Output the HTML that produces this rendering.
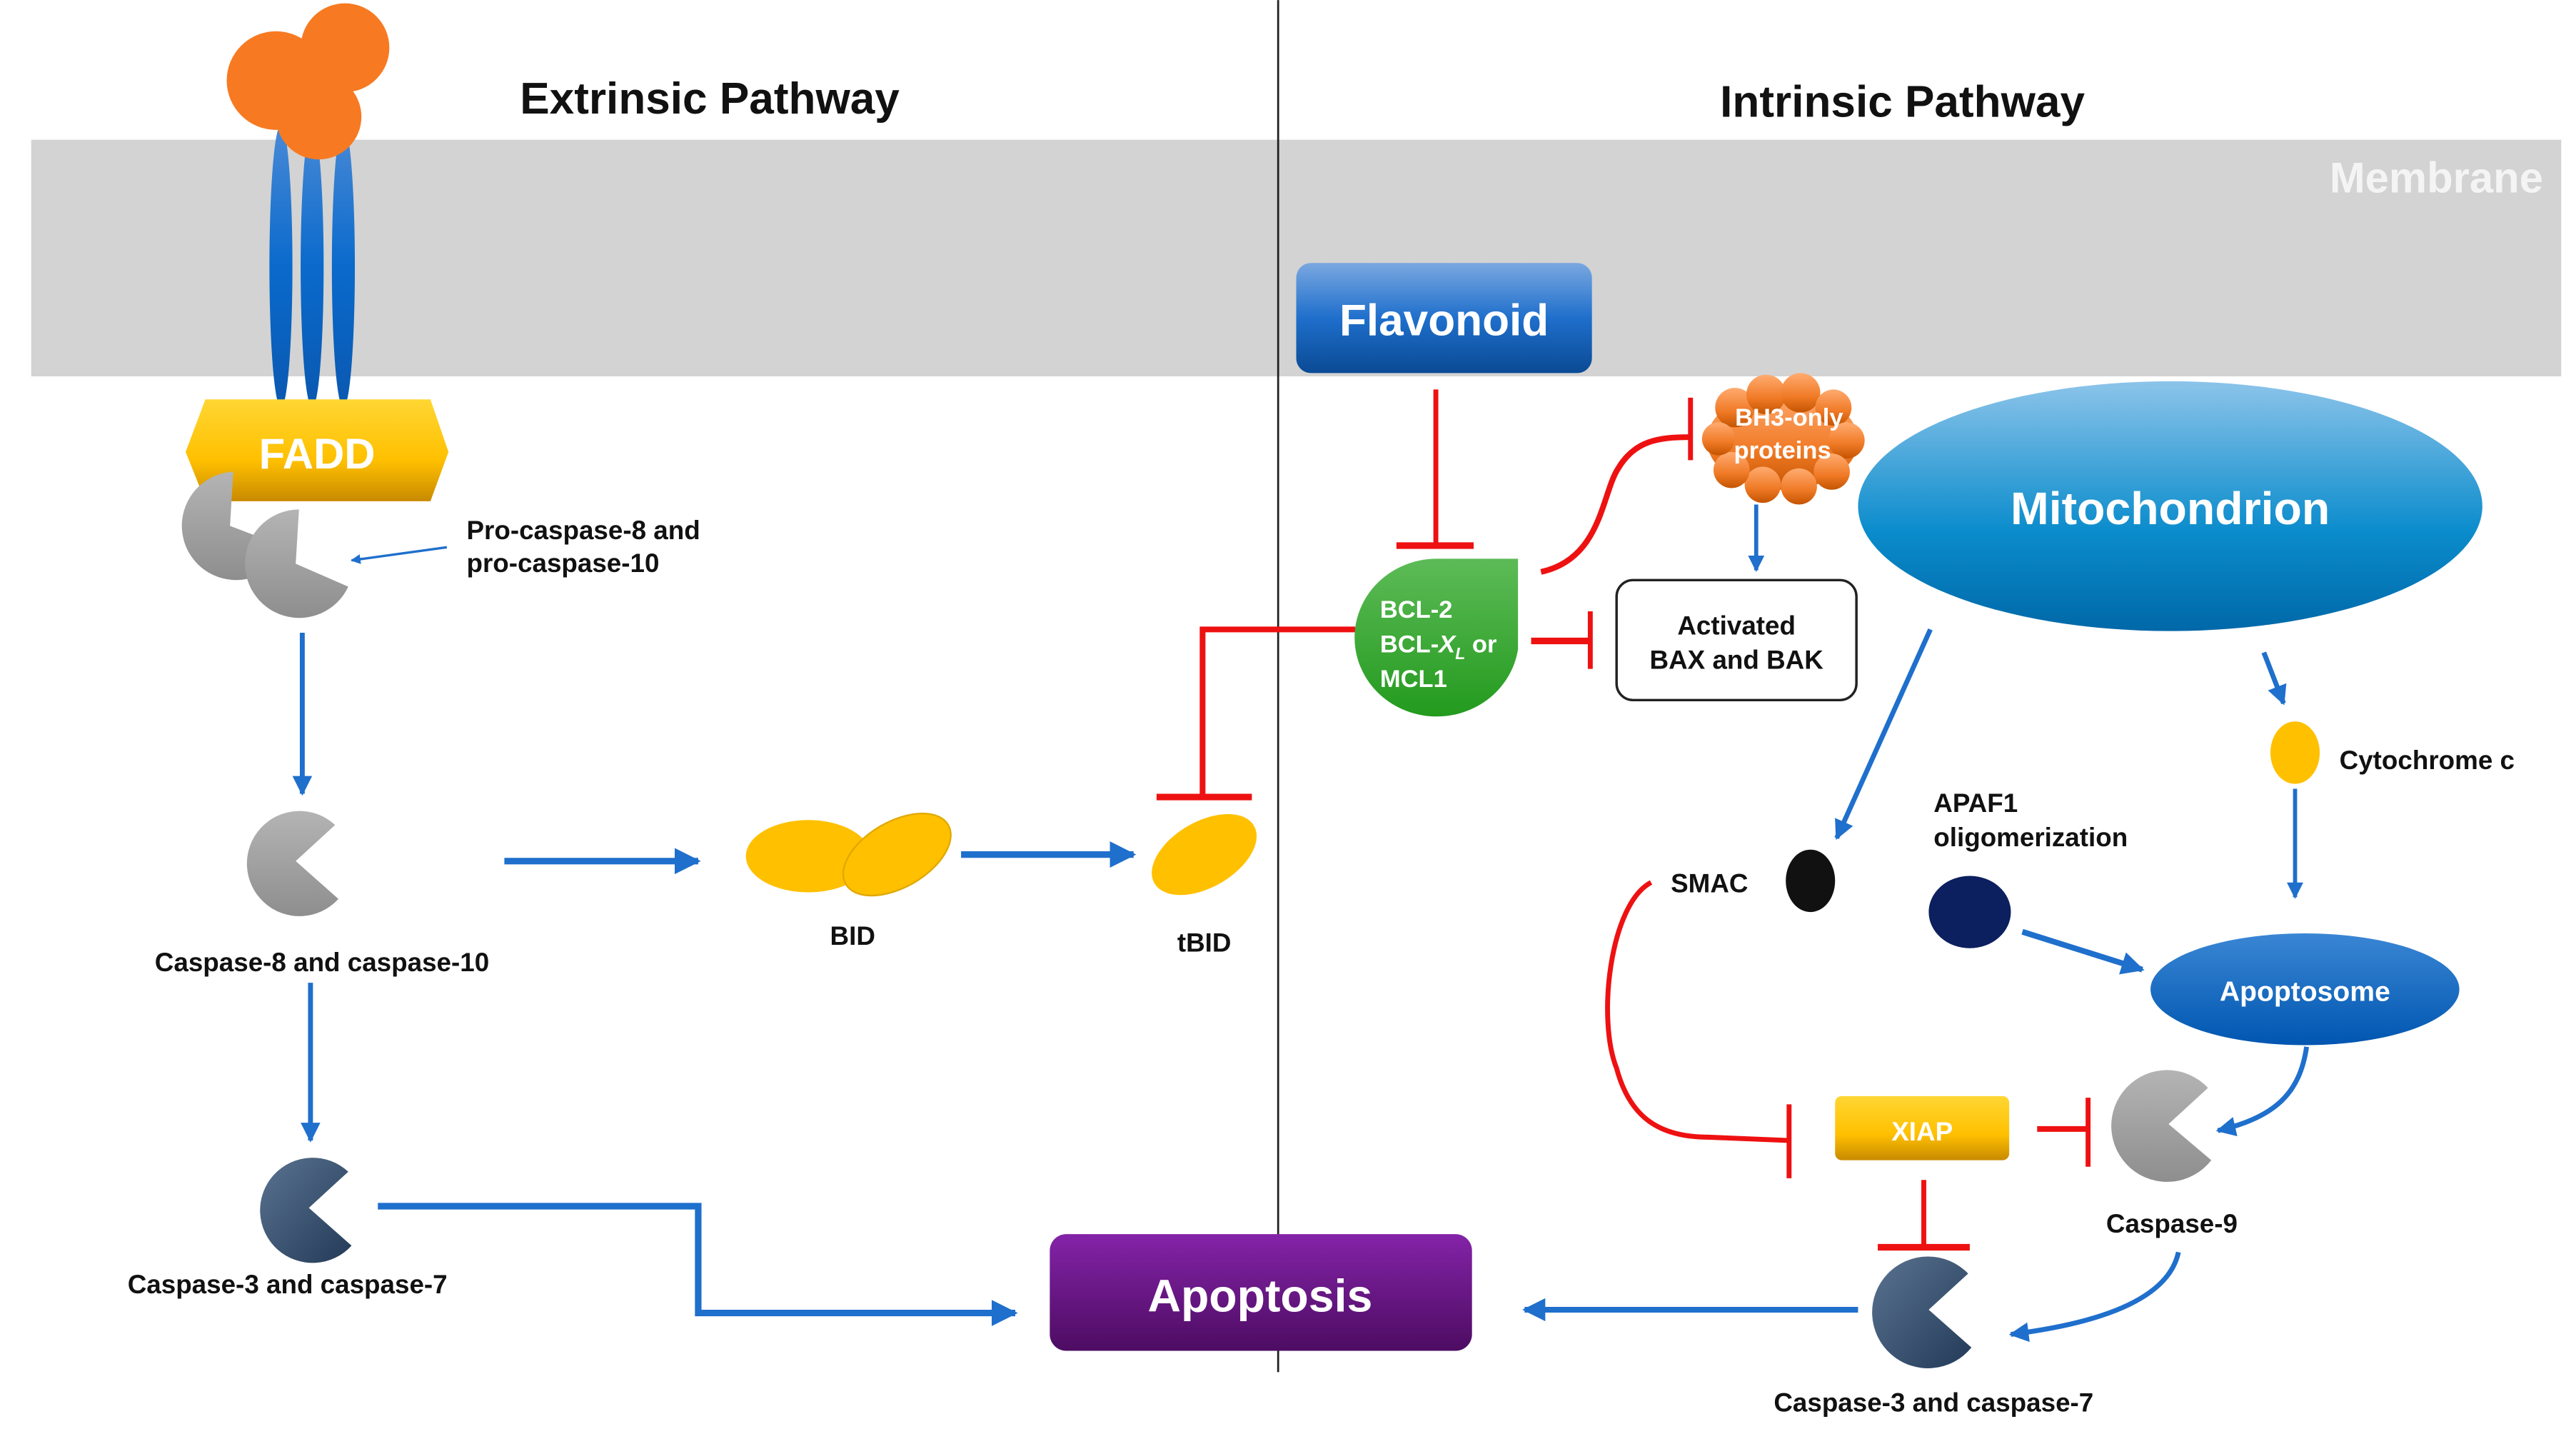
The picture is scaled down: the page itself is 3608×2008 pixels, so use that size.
<!DOCTYPE html>
<html><head><meta charset="utf-8"><style>
html,body{margin:0;padding:0;background:#fff;}
svg{display:block;}
text{font-family:"Liberation Sans",sans-serif;font-weight:bold;}
</style></head><body>
<svg width="3608" height="2008" viewBox="0 0 1568 872.6" xmlns="http://www.w3.org/2000/svg">
<defs>
<linearGradient id="gBlue" x1="0" y1="0" x2="0" y2="1"><stop offset="0" stop-color="#7aa8e0"/><stop offset=".5" stop-color="#1f6fcc"/><stop offset="1" stop-color="#0a4a94"/></linearGradient>
<linearGradient id="gMito" x1="0" y1="0" x2="0" y2="1"><stop offset="0" stop-color="#8cc4ea"/><stop offset=".6" stop-color="#0b8ccc"/><stop offset="1" stop-color="#0068a8"/></linearGradient>
<linearGradient id="gApo" x1="0" y1="0" x2="0" y2="1"><stop offset="0" stop-color="#3a86d4"/><stop offset="1" stop-color="#0056b0"/></linearGradient>
<linearGradient id="gPur" x1="0" y1="0" x2="0" y2="1"><stop offset="0" stop-color="#8423a8"/><stop offset="1" stop-color="#4d0c62"/></linearGradient>
<linearGradient id="gYel" x1="0" y1="0" x2="0" y2="1"><stop offset="0" stop-color="#ffd633"/><stop offset=".6" stop-color="#ffc000"/><stop offset="1" stop-color="#c88a00"/></linearGradient>
<linearGradient id="gOr" x1="0" y1="0" x2="0" y2="1"><stop offset="0" stop-color="#ffab70"/><stop offset=".6" stop-color="#f07a26"/><stop offset="1" stop-color="#c45400"/></linearGradient>
<linearGradient id="gGr" x1="0" y1="0" x2="0" y2="1"><stop offset="0" stop-color="#5dbb57"/><stop offset="1" stop-color="#239a1e"/></linearGradient>
<linearGradient id="gGray" x1="0" y1="0" x2="0" y2="1"><stop offset="0" stop-color="#b4b4b4"/><stop offset="1" stop-color="#8e8e8e"/></linearGradient>
<linearGradient id="gDark" x1="0" y1="0" x2="1" y2="1"><stop offset="0" stop-color="#5a7390"/><stop offset="1" stop-color="#233b58"/></linearGradient>
<linearGradient id="gRec" x1="0" y1="0" x2="0" y2="1"><stop offset="0" stop-color="#4a8ad6"/><stop offset=".5" stop-color="#0a6acc"/><stop offset="1" stop-color="#0a58b0"/></linearGradient>
<marker id="ab" viewBox="0 0 10 10" refX="9" refY="5" markerWidth="4" markerHeight="4" orient="auto"><path d="M0,0 L10,5 L0,10 Z" fill="#1f6fcc"/></marker>
</defs>

<rect x="19" y="85" width="1540" height="144" fill="#d3d3d3"/>
<text x="1548" y="117" text-anchor="end" font-size="26" fill="#f4f4f4">Membrane</text>
<line x1="778" y1="0" x2="778" y2="835" stroke="#222" stroke-width="1.2"/>

<text x="432" y="69" text-anchor="middle" font-size="27" fill="#111">Extrinsic Pathway</text>
<text x="1158" y="71" text-anchor="middle" font-size="27" fill="#111">Intrinsic Pathway</text>

<ellipse cx="171" cy="162" rx="7" ry="86" fill="url(#gRec)"/>
<ellipse cx="190" cy="162" rx="7" ry="86" fill="url(#gRec)"/>
<ellipse cx="209" cy="162" rx="7" ry="86" fill="url(#gRec)"/>
<circle cx="168" cy="49" r="30" fill="#f77a22"/>
<circle cx="210" cy="29" r="27" fill="#f77a22"/>
<circle cx="194" cy="71" r="26" fill="#f77a22"/>

<path d="M125,243 L262,243 L273,275 L262,305 L125,305 L113,275 Z" fill="url(#gYel)"/>
<text x="193" y="285" text-anchor="middle" font-size="26" fill="#fff">FADD</text>
<path d="M140,320 L142,287 A33,33 0 1 0 174,333 Z" fill="url(#gGray)"/>
<path d="M180,343 L182,310 A33,33 0 1 0 212,357 Z" fill="url(#gGray)"/>
<line x1="272" y1="333" x2="214" y2="341" stroke="#1f6fcc" stroke-width="1.5" marker-end="url(#ab)"/>
<text x="284" y="328" font-size="16" fill="#111">Pro-caspase-8 and</text>
<text x="284" y="348" font-size="16" fill="#111">pro-caspase-10</text>

<line x1="184" y1="385" x2="184" y2="483" stroke="#1f6fcc" stroke-width="3" marker-end="url(#ab)"/>
<path d="M180,524 L204,502 A32,32 0 1 0 206,547 Z" fill="url(#gGray)"/>
<text x="196" y="591" text-anchor="middle" font-size="16" fill="#111">Caspase-8 and caspase-10</text>
<line x1="307" y1="524" x2="425" y2="524" stroke="#1f6fcc" stroke-width="4" marker-end="url(#ab)"/>
<ellipse cx="492" cy="521" rx="38" ry="22" fill="#ffc000"/>
<ellipse cx="546" cy="520" rx="36" ry="20" transform="rotate(-30 546 520)" fill="#ffc000" stroke="#e0a800" stroke-width="1"/>
<text x="519" y="575" text-anchor="middle" font-size="16" fill="#111">BID</text>
<line x1="585" y1="520" x2="690" y2="520" stroke="#1f6fcc" stroke-width="4" marker-end="url(#ab)"/>
<ellipse cx="733" cy="520" rx="35" ry="20" transform="rotate(-30 733 520)" fill="#ffc000"/>
<text x="733" y="579" text-anchor="middle" font-size="16" fill="#111">tBID</text>
<path d="M825,383 L732,383 L732,485" fill="none" stroke="#ee1111" stroke-width="3.5"/>
<line x1="704" y1="485" x2="762" y2="485" stroke="#ee1111" stroke-width="4"/>

<line x1="189" y1="598" x2="189" y2="694" stroke="#1f6fcc" stroke-width="3" marker-end="url(#ab)"/>
<path d="M188,735 L212,713 A32,32 0 1 0 214,758 Z" fill="url(#gDark)"/>
<text x="175" y="787" text-anchor="middle" font-size="16" fill="#111">Caspase-3 and caspase-7</text>
<path d="M230,734 L425,734 L425,799 L618,799" fill="none" stroke="#1f6fcc" stroke-width="4" marker-end="url(#ab)"/>

<rect x="639" y="751" width="257" height="71" rx="10" fill="url(#gPur)"/>
<text x="767" y="798" text-anchor="middle" font-size="28" fill="#fff">Apoptosis</text>

<rect x="789" y="160" width="180" height="67" rx="9" fill="url(#gBlue)"/>
<text x="879" y="204" text-anchor="middle" font-size="27" fill="#fff">Flavonoid</text>
<line x1="874" y1="237" x2="874" y2="331" stroke="#ee1111" stroke-width="3"/>
<line x1="850" y1="332" x2="897" y2="332" stroke="#ee1111" stroke-width="4"/>

<path d="M924,340 L924,395 A50,48 0 1 1 874,340 Z" fill="url(#gGr)"/>
<text x="840" y="376" font-size="15" fill="#fff">BCL-2</text>
<text x="840" y="397" font-size="15" fill="#fff">BCL-<tspan font-style="italic">X</tspan><tspan font-size="10" dy="4" font-style="italic">L</tspan><tspan dy="-4"> or</tspan></text>
<text x="840" y="418" font-size="15" fill="#fff">MCL1</text>
<line x1="932" y1="390" x2="968" y2="390" stroke="#ee1111" stroke-width="4"/>
<line x1="968" y1="372" x2="968" y2="407" stroke="#ee1111" stroke-width="3"/>
<path d="M938,348 C975,340 975,300 985,285 C995,268 1010,266 1028,266" fill="none" stroke="#ee1111" stroke-width="3.5"/>
<line x1="1029" y1="242" x2="1029" y2="280" stroke="#ee1111" stroke-width="3"/>

<g fill="url(#gOr)">
<ellipse cx="1085" cy="268" rx="46" ry="30"/>
<circle cx="1056" cy="248" r="12"/><circle cx="1075" cy="240" r="12"/><circle cx="1096" cy="239" r="12"/><circle cx="1116" cy="248" r="11"/>
<circle cx="1124" cy="268" r="11"/><circle cx="1115" cy="287" r="11"/><circle cx="1095" cy="296" r="11"/><circle cx="1073" cy="295" r="11"/><circle cx="1054" cy="286" r="11"/><circle cx="1046" cy="267" r="10"/>
</g>
<text x="1089" y="259" text-anchor="middle" font-size="15" fill="#fff">BH3-only</text>
<text x="1085" y="279" text-anchor="middle" font-size="15" fill="#fff">proteins</text>
<line x1="1069" y1="307" x2="1069" y2="347" stroke="#1f6fcc" stroke-width="2.5" marker-end="url(#ab)"/>

<rect x="984" y="353" width="146" height="73" rx="10" fill="#fff" stroke="#222" stroke-width="1.5"/>
<text x="1057" y="386" text-anchor="middle" font-size="16" fill="#111">Activated</text>
<text x="1057" y="407" text-anchor="middle" font-size="16" fill="#111">BAX and BAK</text>

<ellipse cx="1321" cy="308" rx="190" ry="76" fill="url(#gMito)"/>
<text x="1321" y="319" text-anchor="middle" font-size="28" fill="#fff">Mitochondrion</text>

<line x1="1175" y1="383" x2="1118" y2="510" stroke="#1f6fcc" stroke-width="3" marker-end="url(#ab)"/>
<line x1="1378" y1="397" x2="1390" y2="428" stroke="#1f6fcc" stroke-width="3" marker-end="url(#ab)"/>
<ellipse cx="1397" cy="458" rx="15" ry="19" fill="#ffc000"/>
<text x="1424" y="468" font-size="16" fill="#111">Cytochrome c</text>
<line x1="1397" y1="480" x2="1397" y2="546" stroke="#1f6fcc" stroke-width="2.5" marker-end="url(#ab)"/>

<text x="1177" y="494" font-size="16" fill="#111">APAF1</text>
<text x="1177" y="515" font-size="16" fill="#111">oligomerization</text>
<text x="1017" y="543" font-size="16" fill="#111">SMAC</text>
<ellipse cx="1102" cy="536" rx="15" ry="19" fill="#111"/>
<ellipse cx="1199" cy="555" rx="25" ry="22" fill="#0c1f5e"/>
<line x1="1231" y1="567" x2="1304" y2="590" stroke="#1f6fcc" stroke-width="3.5" marker-end="url(#ab)"/>

<ellipse cx="1403" cy="602" rx="94" ry="34" fill="url(#gApo)"/>
<text x="1403" y="609" text-anchor="middle" font-size="17" fill="#fff">Apoptosome</text>
<path d="M1404,637 C1400,665 1385,680 1350,688" fill="none" stroke="#1f6fcc" stroke-width="3" marker-end="url(#ab)"/>

<path d="M1320,684 L1344,662 A34,34 0 1 0 1346,706 Z" fill="url(#gGray)"/>
<text x="1322" y="750" text-anchor="middle" font-size="16" fill="#111">Caspase-9</text>

<rect x="1117" y="667" width="106" height="39" rx="4" fill="url(#gYel)"/>
<text x="1170" y="694" text-anchor="middle" font-size="16" fill="#fff">XIAP</text>
<line x1="1240" y1="687" x2="1271" y2="687" stroke="#ee1111" stroke-width="3.5"/>
<line x1="1271" y1="668" x2="1271" y2="710" stroke="#ee1111" stroke-width="3"/>
<path d="M1005,537 C980,550 972,620 984,650 C992,680 1010,692 1040,692 L1088,694" fill="none" stroke="#ee1111" stroke-width="3"/>
<line x1="1089" y1="672" x2="1089" y2="717" stroke="#ee1111" stroke-width="3"/>
<line x1="1171" y1="718" x2="1171" y2="758" stroke="#ee1111" stroke-width="3"/>
<line x1="1143" y1="759" x2="1199" y2="759" stroke="#ee1111" stroke-width="4"/>

<path d="M1174,797 L1198,775 A34,34 0 1 0 1200,820 Z" fill="url(#gDark)"/>
<text x="1177" y="859" text-anchor="middle" font-size="16" fill="#111">Caspase-3 and caspase-7</text>
<path d="M1326,762 C1320,790 1280,805 1224,812" fill="none" stroke="#1f6fcc" stroke-width="3" marker-end="url(#ab)"/>
<line x1="1131" y1="797" x2="928" y2="797" stroke="#1f6fcc" stroke-width="3.5" marker-end="url(#ab)"/>
</svg>
</body></html>
